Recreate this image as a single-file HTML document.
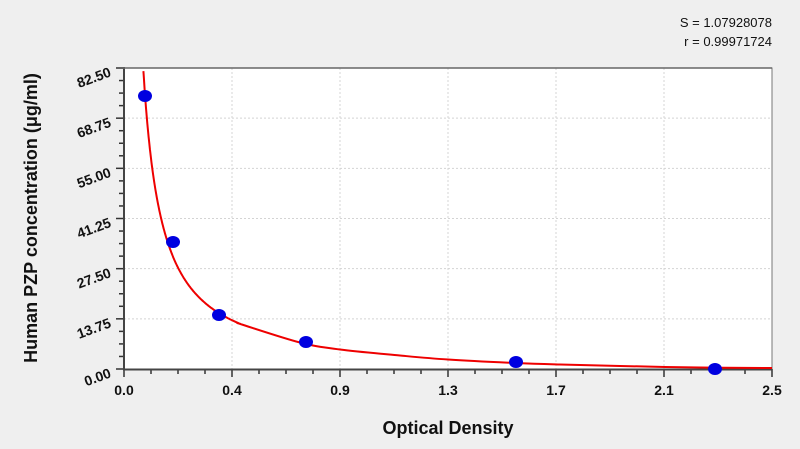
<!DOCTYPE html>
<html><head><meta charset="utf-8"><style>
html,body{margin:0;padding:0;background:#efefef;}
svg{display:block;font-family:"Liberation Sans",Arial,sans-serif;}
</style></head><body>
<svg id="s" width="800" height="449" xmlns="http://www.w3.org/2000/svg">
<rect width="800" height="449" fill="#efefef"/>
<rect x="124" y="68" width="648" height="301" fill="#fff" stroke="#777" stroke-width="1"/>
<g id="grid" stroke="#d4d4d4" stroke-dasharray="2,2" stroke-width="1"></g>
<g id="ticks" stroke="#333" stroke-width="1.5"></g>
<line x1="124" y1="67" x2="124" y2="370" stroke="#444" stroke-width="2"/>
<line x1="123" y1="369.5" x2="772" y2="369.5" stroke="#444" stroke-width="2"/>
<line x1="123" y1="68" x2="772" y2="68" stroke="#666" stroke-width="1.5"/>
<g id="lbl" font-weight="bold" font-size="14" fill="#111"></g>
<path id="curve" fill="none" stroke="#e00" stroke-width="2"/>
<g fill="#0000e0">
<ellipse cx="145" cy="96" rx="7" ry="6"/>
<ellipse cx="173" cy="242" rx="7" ry="6"/>
<ellipse cx="219" cy="315" rx="7" ry="6"/>
<ellipse cx="306" cy="342" rx="7" ry="6"/>
<ellipse cx="516" cy="362" rx="7" ry="6"/>
<ellipse cx="715" cy="369" rx="7" ry="6"/>
</g>
<text x="448" y="434" text-anchor="middle" font-weight="bold" font-size="18" fill="#111">Optical Density</text>
<text transform="translate(37,218) rotate(-90)" text-anchor="middle" font-weight="bold" font-size="18" fill="#111">Human PZP concentration (μg/ml)</text>
<text x="772" y="27" text-anchor="end" font-size="13" fill="#111">S = 1.07928078</text>
<text x="772" y="46" text-anchor="end" font-size="13" fill="#111">r = 0.99971724</text>
</svg>
<script>
var ns="http://www.w3.org/2000/svg";
function el(p,t,a,txt){var e=document.createElementNS(ns,t);for(var k in a)e.setAttribute(k,a[k]);if(txt)e.textContent=txt;document.getElementById(p).appendChild(e);}
var L=124,R=772,T=68,B=369,W=R-L,H=B-T;
var xl=["0.0","0.4","0.9","1.3","1.7","2.1","2.5"];
for(var i=0;i<=6;i++){var x=L+W*i/6;
 if(i>0&&i<6)el("grid","line",{x1:x,y1:T,x2:x,y2:B});
 el("ticks","line",{x1:x,y1:B,x2:x,y2:B+8});
 el("lbl","text",{x:x,y:B+26,"text-anchor":"middle"},xl[i]);
 if(i<6)for(var j=1;j<4;j++){var xm=x+W/6*j/4;el("ticks","line",{x1:xm,y1:B,x2:xm,y2:B+5});}}
var yl=["0.00","13.75","27.50","41.25","55.00","68.75","82.50"];
for(var i=0;i<=6;i++){var y=B-H*i/6;
 if(i>0&&i<6)el("grid","line",{x1:L,y1:y,x2:R,y2:y});
 el("ticks","line",{x1:L-8,y1:y,x2:L,y2:y});
 el("lbl","text",{x:0,y:0,transform:"translate("+(L-12)+","+(y+8)+") rotate(-20)","text-anchor":"end"},yl[i]);
 if(i<6)for(var j=1;j<4;j++){var ym=y-H/6*j/4;el("ticks","line",{x1:L-5,y1:ym,x2:L,y2:ym});}}
var pts=[];var a=5.31,b=1.055;
for(var od=0.07;od<=0.46;od+=0.005){var c=a*Math.pow(od,-b);var px=L+od/2.5*W,py=B-c/82.5*H;if(py<62)continue;pts.push([px,py]);}
[[300,342.5],[340,349.5],[400,355.5],[448,359.5],[516,363],[560,364.5],[620,366],[700,367.5],[772,368]].forEach(function(p){pts.push(p);});
var d="M"+pts[0][0].toFixed(1)+","+pts[0][1].toFixed(1);
for(var i=0;i<pts.length-1;i++){var p0=pts[Math.max(0,i-1)],p1=pts[i],p2=pts[i+1],p3=pts[Math.min(pts.length-1,i+2)];
 var c1x=p1[0]+(p2[0]-p0[0])/6,c1y=p1[1]+(p2[1]-p0[1])/6,c2x=p2[0]-(p3[0]-p1[0])/6,c2y=p2[1]-(p3[1]-p1[1])/6;
 d+="C"+c1x.toFixed(1)+","+c1y.toFixed(1)+" "+c2x.toFixed(1)+","+c2y.toFixed(1)+" "+p2[0].toFixed(1)+","+p2[1].toFixed(1);}
document.getElementById("curve").setAttribute("d",d);
</script>
</body></html>
